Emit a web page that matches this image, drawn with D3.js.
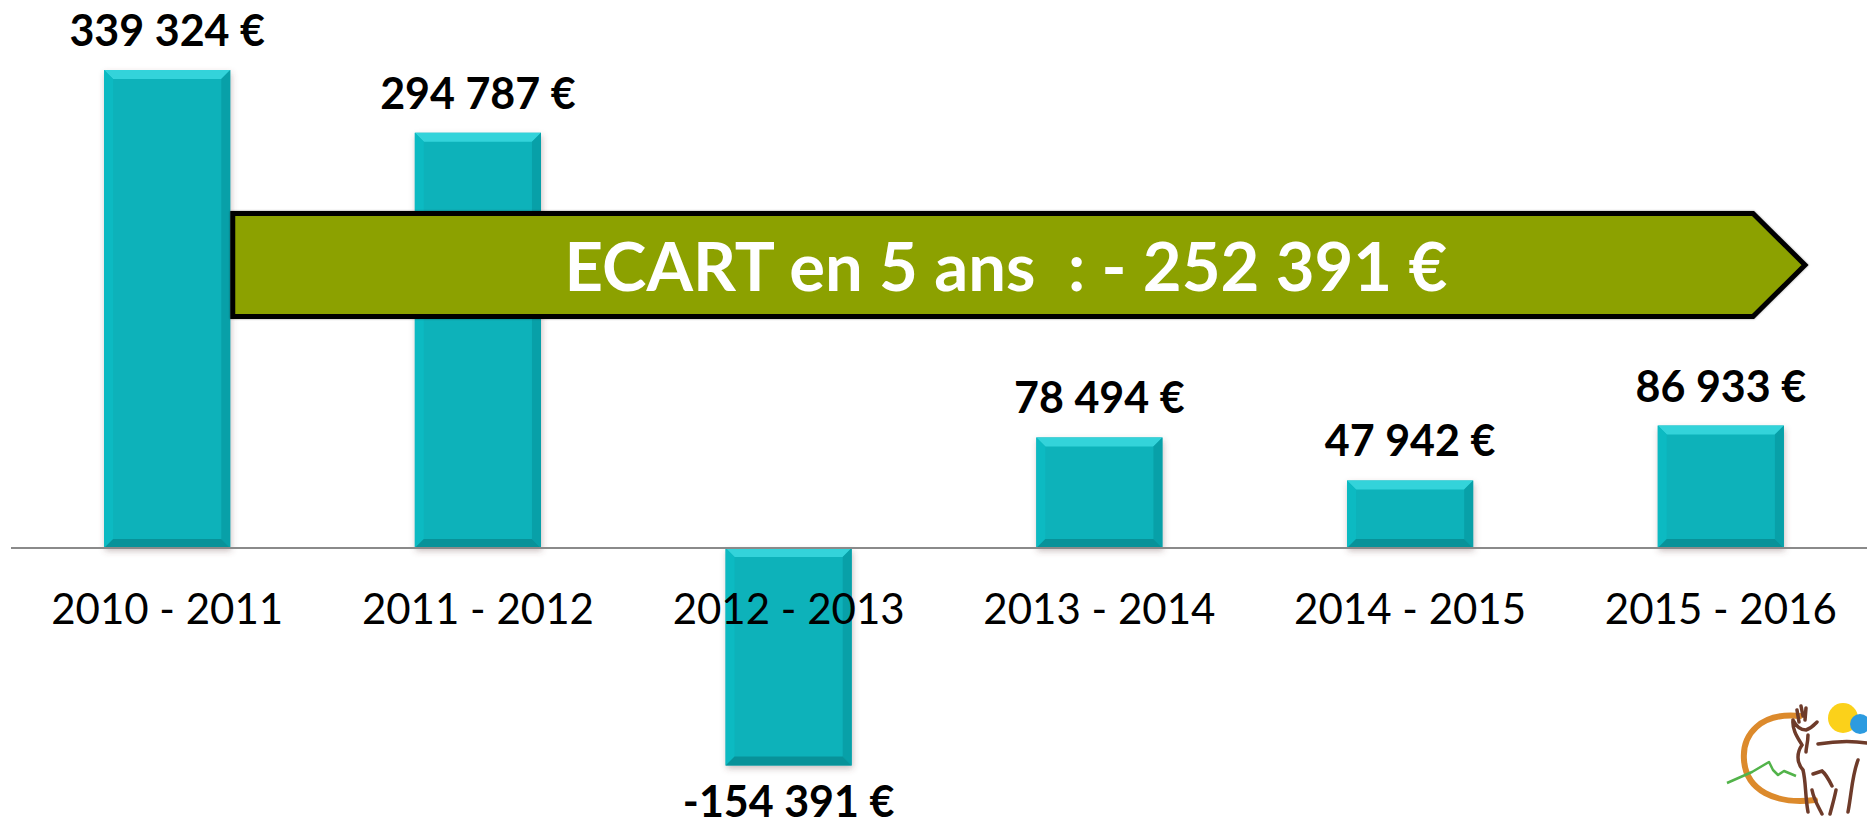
<!DOCTYPE html>
<html>
<head>
<meta charset="utf-8">
<script src="https://cdn.jsdelivr.net/npm/d3@7"></script>
<style>
  body { margin: 0; background: #fff; overflow: hidden; }
  svg { display: block; font-family: Lato, "Open Sans", sans-serif; }
</style>
</head>
<body>
<script>
// data
const periods = ['2010 - 2011', '2011 - 2012', '2012 - 2013', '2013 - 2014', '2014 - 2015', '2015 - 2016'];
const soldes = [339324, 294787, -154391, 78494, 47942, 86933];
const ecartText = 'ECART en 5 ans  : - 252 391 €';

const W = 1867, H = 826;

const fr = d3.formatLocale({ decimal: ',', thousands: ' ', grouping: [3], currency: ['', ' €'], minus: '-' });
const fmt = fr.format('$,.0f');

const svg = d3.select('body').append('svg')
  .attr('width', W)
  .attr('height', H);

const defs = svg.append('defs');

// soft shadow under the bars
const sh = defs.append('filter').attr('id', 'shadow')
  .attr('x', '-20%').attr('y', '-20%').attr('width', '140%').attr('height', '140%');
sh.append('feDropShadow')
  .attr('dx', 1).attr('dy', 3).attr('stdDeviation', 3)
  .attr('flood-color', '#6a4a4a').attr('flood-opacity', 0.35);

const ash = defs.append('filter').attr('id', 'ashadow')
  .attr('x', '-5%').attr('y', '-20%').attr('width', '110%').attr('height', '140%');
ash.append('feDropShadow')
  .attr('dx', 0).attr('dy', 0).attr('stdDeviation', 1)
  .attr('flood-color', '#000').attr('flood-opacity', 0.4);

const x = d3.scaleBand()
  .domain(periods)
  .range([0, 1888])
  .paddingInner(0.594)
  .paddingOuter(0.335);

const y = d3.scaleLinear()
  .domain([0, d3.max(soldes)])
  .range([548, 70]);

const bw = x.bandwidth();
const bev = 9;

// bars
const bars = svg.append('g').attr('id', 'bars')
  .selectAll('g')
  .data(soldes)
  .enter().append('g')
  .attr('transform', (d, i) => `translate(${x(periods[i])},${Math.min(y(d), y(0))})`);

bars.append('rect')
  .attr('width', bw)
  .attr('height', d => Math.abs(y(d) - y(0)))
  .attr('fill', '#0ab2ba')
  .attr('filter', 'url(#shadow)');

// bevel edges
bars.append('path')
  .attr('fill', '#33d3da')
  .attr('d', d => `M0,0 L${bw},0 L${bw - bev},${bev} L${bev},${bev} Z`);
bars.append('path')
  .attr('fill', '#0cbac2')
  .attr('d', d => { const h = Math.abs(y(d) - y(0)); return `M0,0 L${bev},${bev} L${bev},${h - bev} L0,${h} Z`; });
bars.append('path')
  .attr('fill', '#08a0a8')
  .attr('d', d => { const h = Math.abs(y(d) - y(0)); return `M${bw},0 L${bw},${h} L${bw - bev},${h - bev} L${bw - bev},${bev} Z`; });
bars.append('path')
  .attr('fill', '#089299')
  .attr('d', d => { const h = Math.abs(y(d) - y(0)); return `M0,${h} L${bev},${h - bev} L${bw - bev},${h - bev} L${bw},${h} Z`; });

// zero line
svg.append('line')
  .attr('x1', 11).attr('x2', W)
  .attr('y1', y(0)).attr('y2', y(0))
  .attr('stroke', '#8a8a8a')
  .attr('stroke-width', 2);

// category labels
svg.append('g').attr('id', 'cats')
  .selectAll('text')
  .data(periods)
  .enter().append('text')
  .attr('x', d => x(d) + bw / 2)
  .attr('y', 624)
  .attr('text-anchor', 'middle')
  .attr('font-size', 42)
  .attr('fill', '#000')
  .text(d => d);

// value labels
svg.append('g').attr('id', 'values')
  .selectAll('text')
  .data(soldes)
  .enter().append('text')
  .attr('x', (d, i) => x(periods[i]) + bw / 2)
  .attr('y', d => d >= 0 ? y(d) - 24 : y(d) + 52)
  .attr('text-anchor', 'middle')
  .attr('font-size', 43)
  .attr('font-weight', 'bold')
  .attr('fill', '#000')
  .text(d => fmt(d));

// the green arrow over the bars
const ax0 = x(periods[0]) + bw + 2.5, ay0 = 213.5, ay1 = 316.5, axb = 1753, axt = 1805;
svg.append('path')
  .attr('d', `M${ax0},${ay0} L${axb},${ay0} L${axt},${(ay0 + ay1) / 2} L${axb},${ay1} L${ax0},${ay1} Z`)
  .attr('fill', '#8ca100')
  .attr('stroke', '#000')
  .attr('stroke-width', 5)
  .attr('stroke-linejoin', 'miter')
  .attr('filter', 'url(#ashadow)');

svg.append('text')
  .attr('x', 1006)
  .attr('y', 291)
  .attr('text-anchor', 'middle')
  .attr('font-size', 67)
  .attr('font-weight', 'bold')
  .attr('fill', '#fff')
  .style('white-space', 'pre')
  .text(ecartText);

// little logo, bottom right (cut by the page edge)
const logo = svg.append('g').attr('id', 'logo');
logo.append('path')
  .attr('d', 'M1800,716 C1760,712 1742,735 1744,760 C1746,790 1775,805 1815,800')
  .attr('fill', 'none').attr('stroke', '#dc8a2c').attr('stroke-width', 6).attr('stroke-linecap', 'round');
logo.append('circle').attr('cx', 1843).attr('cy', 718).attr('r', 15).attr('fill', '#fbd11a');
logo.append('circle').attr('cx', 1860).attr('cy', 724).attr('r', 10).attr('fill', '#2c9be0');
logo.append('path')
  .attr('d', 'M1727,783 L1752,772 L1769,762 L1773,770 L1778,775 L1784,771 L1796,776')
  .attr('fill', 'none').attr('stroke', '#52b34a').attr('stroke-width', 2.5).attr('stroke-linejoin', 'round');
const deer = 'M1797,710 L1799,722 M1806,708 L1805,720 M1801,706 L1803,716 ' +
  'M1793,720 C1796,726 1800,730 1806,730 C1812,728 1815,724 1817,722 ' +
  'M1793,720 C1792,730 1798,738 1802,745 C1797,752 1796,762 1803,770 ' +
  'M1808,735 C1808,742 1806,748 1806,752 ' +
  'M1813,774 L1822,771 C1826,774 1829,780 1832,786 ' +
  'M1818,744 C1830,742 1848,740 1867,743 ' +
  'M1803,770 C1806,782 1805,795 1808,812 M1812,790 C1814,800 1818,806 1822,814 ' +
  'M1858,760 C1852,776 1852,790 1848,812 M1836,790 C1834,800 1832,806 1830,814';
logo.append('path')
  .attr('d', deer)
  .attr('fill', 'none').attr('stroke', '#6e3b2a').attr('stroke-width', 3.5).attr('stroke-linecap', 'round');
</script>
</body>
</html>
